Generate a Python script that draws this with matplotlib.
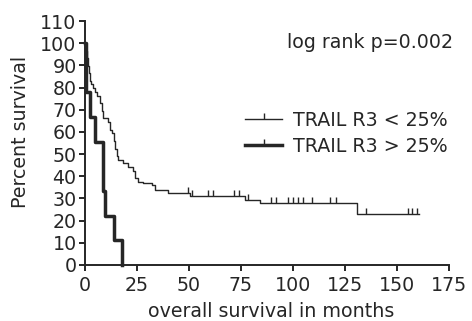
import numpy as np
import matplotlib.pyplot as plt
from matplotlib.lines import Line2D

# Kaplan-Meier step points (months, percent surviving)
low_times = [0, 0.4, 0.8, 1.3, 1.8, 2.4, 3.0, 4.0, 5.0, 6.0, 7.2, 8.0, 8.8,
             11.2, 12.0, 12.9, 13.8, 14.6, 15.4, 16.0, 18.5, 20.9, 23.3, 24.2,
             25.7, 28.1, 32.1, 33.7, 40.1, 50.6, 77.1, 84.3, 130.6]
low_surv = [100, 96.6, 93.2, 89.8, 86.4, 83.1, 81.4, 79.7, 78.0, 76.3, 72.9,
            69.5, 66.1, 64.4, 61.0, 59.3, 55.9, 52.5, 49.2, 47.5, 45.8, 44.1,
            42.4, 39.0, 37.3, 36.8, 35.9, 33.9, 32.6, 31.2, 29.3, 27.8, 22.8]
low_followup = 160.5
low_censored = [49.4, 51.3, 59.3, 61.4, 71.6, 74.2, 78.5, 89.7, 92.1, 97.7,
                100.1, 102.5, 104.9, 109.0, 117.8, 120.7, 135.0, 155.4,
                157.5, 159.5]

high_times = [0, 0.5, 2.2, 4.7, 8.5, 9.5, 14.2, 17.7]
high_surv = [100, 77.8, 66.7, 55.6, 33.3, 22.2, 11.1, 0]

labels = ["TRAIL R3 < 25%", "TRAIL R3 > 25%"]
pvalue_text = "log rank p=0.002"

ink = "#262626"
plt.rcParams['font.family'] = ['DejaVu Sans']
plt.rcParams['font.size'] = 13.7
plt.rcParams['text.color'] = ink
plt.rcParams['axes.labelcolor'] = ink
plt.rcParams['xtick.color'] = ink
plt.rcParams['ytick.color'] = ink

fig = plt.figure(figsize=(4.72, 3.21), dpi=100)
ax = fig.add_axes([0.180, 0.1745, 0.771, 0.760])

# low expression group: thin line, extended to last follow-up
t_low = low_times + [low_followup]
s_low = low_surv + [low_surv[-1]]
ax.step(t_low, s_low, where='post', color=ink, lw=1.0, clip_on=False)
idx = np.searchsorted(low_times, low_censored, side='right') - 1
cens_y = np.array(low_surv)[idx]
ax.plot(low_censored, cens_y, ls='none', marker=2, ms=4.5, mew=1.0,
        color=ink, clip_on=False)

# high expression group: thick line
ax.step(high_times, high_surv, where='post', color=ink, lw=2.5,
        clip_on=False)

ax.set_xlim(0, 175)
ax.set_ylim(0, 110)
ax.set_xticks(np.arange(0, 176, 25))
ax.set_yticks(np.arange(0, 111, 10))
ax.spines['top'].set_visible(False)
ax.spines['right'].set_visible(False)
for side in ('left', 'bottom'):
    ax.spines[side].set_linewidth(1.4)
    ax.spines[side].set_color(ink)
ax.tick_params(direction='out', length=4, width=1.4)
ax.tick_params(axis='x', pad=4)
ax.tick_params(axis='y', pad=2)

ax.set_xlabel("overall survival in months")
ax.xaxis.set_label_coords(0.512, -0.152)
ax.set_ylabel("Percent survival")
ax.yaxis.set_label_coords(-0.151, 0.545)

fig.text(453 / 472, 1 - 43 / 321, pvalue_text, ha='right', va='center')

handles = [
    Line2D([], [], color=ink, lw=1.0, marker=2, ms=4.5, mew=1.0),
    Line2D([], [], color=ink, lw=2.5, marker=2, ms=4.5, mew=1.0),
]
fig.legend(handles, labels, loc='center left',
           bbox_to_anchor=(245 / 472, 1 - 133.5 / 321),
           frameon=False, numpoints=1, handlelength=1.95, handletextpad=0.55,
           labelspacing=0.38, borderpad=0, borderaxespad=0)

fig.savefig("out.png", dpi=100)
